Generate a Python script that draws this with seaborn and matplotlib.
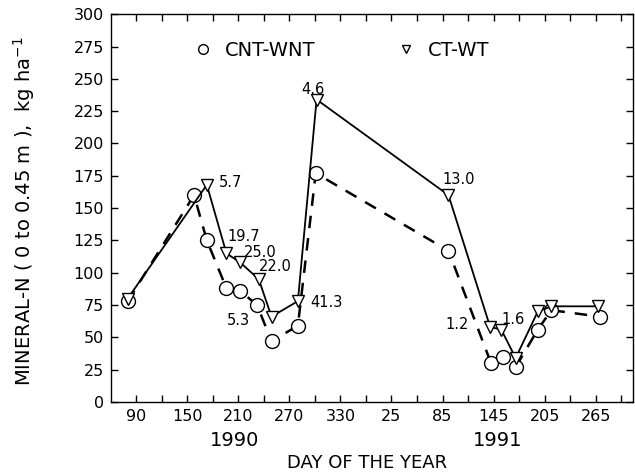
import numpy as np
import pandas as pd
import matplotlib
matplotlib.use("Agg")
import matplotlib.pyplot as plt
import matplotlib.transforms as mtransforms
from matplotlib.lines import Line2D
import seaborn as sns

# --- DATA (day of year, year, mineral-N kg/ha) ---
cnt_day = [80, 158, 173, 196, 212, 232, 249, 280, 301, 92, 142, 156, 171, 197, 213, 270]
cnt_yr = [1990] * 9 + [1991] * 7
cnt_n = [78, 160, 125, 88, 86, 75, 47, 59, 177, 117, 30, 35, 27, 56, 71, 66]

ct_day = [80, 173, 196, 212, 234, 249, 280, 302, 92, 141, 154, 171, 197, 213, 268]
ct_yr = [1990] * 8 + [1991] * 7
ct_n = [80, 168, 115, 108, 95, 66, 78, 234, 160, 58, 56, 34, 70, 74, 74]

tags = ["5.7", "19.7", "25.0", "22.0", "5.3", "41.3", "4.6", "13.0", "1.2", "1.6"]

xtick_pos = [90, 150, 210, 270, 330, 390, 450, 510, 570, 630]
xtick_labels = ["90", "150", "210", "270", "330", "25", "85", "145", "205", "265"]
year_labels = ["1990", "1991"]

# layout: where the tag numbers sit (data coords, left edge / middle)
tag_xy = [(187, 170), (197, 128), (217, 116), (234, 104.5), (197, 63),
          (295, 77), (284, 242), (450, 172.5), (454, 60), (519, 64)]
year_x = [205, 515]

# --- build frames ---
cnt = pd.DataFrame({"day": np.array(cnt_day) + 365 * (np.array(cnt_yr) - 1990), "n": cnt_n})
ct = pd.DataFrame({"day": np.array(ct_day) + 365 * (np.array(ct_yr) - 1990), "n": ct_n})

sns.set_theme(style="ticks")
plt.rcParams["font.family"] = ["DejaVu Sans"]
plt.rcParams["text.color"] = "black"
plt.rcParams["axes.labelcolor"] = "black"

fig = plt.figure(figsize=(6.35, 4.74), dpi=100)
ax = fig.add_axes([0.175, 0.152, 0.822, 0.818])

sns.lineplot(data=cnt, x="day", y="n", ax=ax, sort=False, estimator=None, legend=False,
             color="black", lw=1.8, linestyle=(0, (5, 4)), marker="o", markersize=10,
             markerfacecolor="white", markeredgecolor="black", markeredgewidth=1.0)
sns.lineplot(data=ct, x="day", y="n", ax=ax, sort=False, estimator=None, legend=False,
             color="black", lw=1.3, linestyle="-", marker="v", markersize=8,
             markerfacecolor="white", markeredgecolor="black", markeredgewidth=1.0)

for t, (tx, ty) in zip(tags, tag_xy):
    ax.text(tx, ty, t, fontsize=10.5, ha="left", va="center")

ax.set_xlim(60.5, 674)
ax.set_ylim(0, 300)
ax.set_xticks(np.arange(90, 661, 30))
ax.set_xticklabels([xtick_labels[xtick_pos.index(v)] if v in xtick_pos else "" for v in np.arange(90, 661, 30)])
ax.set_yticks(np.arange(0, 301, 25))
ax.tick_params(direction="in", top=True, right=True, length=5, width=1,
               labelsize=11.5, colors="black", pad=5)
for s in ax.spines.values():
    s.set_linewidth(1.0)
    s.set_color("black")

trans = mtransforms.blended_transform_factory(ax.transData, ax.transAxes)
for yx, yl in zip(year_x, year_labels):
    ax.text(yx, -0.1, yl, transform=trans, fontsize=14, ha="center", va="center")

ax.set_xlabel("DAY OF THE YEAR", fontsize=13, va="center")
ax.xaxis.set_label_coords(0.49, -0.157)
ax.set_ylabel("MINERAL-N ( 0 to 0.45 m ),  kg ha$^{-1}$", fontsize=14)
ax.yaxis.set_label_coords(-0.142, 0.491)

handles = [Line2D([], [], ls="none", marker="o", markersize=7, mfc="white", mec="black"),
           Line2D([], [], ls="none", marker="v", markersize=6, mfc="white", mec="black")]
ax.legend(handles, ["CNT-WNT", "CT-WT"], ncol=2, frameon=False, fontsize=14,
          loc="center left", bbox_to_anchor=(0.124, 0.907), handlelength=1.0,
          handletextpad=0.6, columnspacing=4.2)

plt.savefig("out.png", dpi=100)
